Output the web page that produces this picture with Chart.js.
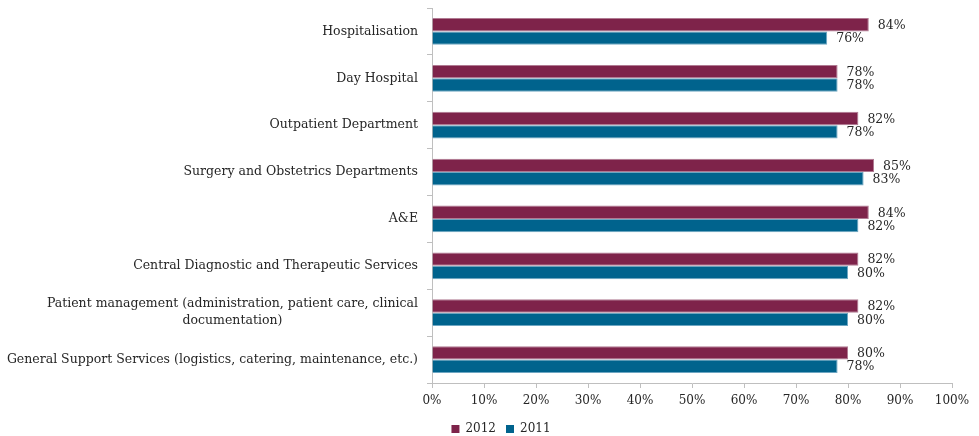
<!DOCTYPE html>
<html>
<head>
<meta charset="utf-8">
<script src="https://cdn.jsdelivr.net/npm/chart.js@4/dist/chart.umd.min.js"></script>
<style>
  html, body { margin: 0; padding: 0; background: #fff; }
  #wrap { width: 979px; height: 436px; }
</style>
</head>
<body>
<div id="wrap"><canvas id="satisfaction" width="979" height="436"></canvas></div>
<script>
const categories = [
  "Hospitalisation",
  "Day Hospital",
  "Outpatient Department",
  "Surgery and Obstetrics Departments",
  "A&E",
  "Central Diagnostic and Therapeutic Services",
  ["Patient management (administration, patient care, clinical", "documentation)"],
  "General Support Services (logistics, catering, maintenance, etc.)"
];
const values2012 = [84, 78, 82, 85, 84, 82, 82, 80];
const values2011 = [76, 78, 78, 83, 82, 80, 80, 78];
const xTicks = [0, 10, 20, 30, 40, 50, 60, 70, 80, 90, 100];

const FONT = "'DejaVu Serif', 'Liberation Serif', serif";
const TEXT = "#262626";
const AXIS = "#bfbfbf";

// value labels just past the end of each bar
const barLabels = {
  id: "barLabels",
  afterDatasetsDraw(chart) {
    const ctx = chart.ctx;
    ctx.save();
    ctx.font = "12.5px " + FONT;
    ctx.fillStyle = TEXT;
    ctx.textAlign = "left";
    ctx.textBaseline = "middle";
    chart.data.datasets.forEach((ds, i) => {
      chart.getDatasetMeta(i).data.forEach((bar, j) => {
        ctx.fillText(ds.data[j] + "%", bar.x + 9, bar.y + 1);
      });
    });
    ctx.restore();
  }
};

// category names, right aligned; wrapped names are centred on their widest line
const categoryLabels = {
  id: "categoryLabels",
  afterDraw(chart) {
    const ctx = chart.ctx;
    const y = chart.scales.y;
    const right = y.right - 14;
    const lineH = 17;
    ctx.save();
    ctx.font = "12.5px " + FONT;
    ctx.fillStyle = TEXT;
    ctx.textBaseline = "middle";
    ctx.textAlign = "center";
    categories.forEach((label, i) => {
      const lines = Array.isArray(label) ? label : [label];
      const cy = y.getPixelForValue(i);
      const widest = Math.max(...lines.map(l => ctx.measureText(l).width));
      const cx = right - widest / 2;
      lines.forEach((l, k) => {
        ctx.fillText(l, cx, cy + (k - (lines.length - 1) / 2) * lineH);
      });
    });
    ctx.restore();
  }
};

new Chart(document.getElementById("satisfaction"), {
  type: "bar",
  data: {
    labels: categories,
    datasets: [
      {
        label: "2012", data: values2012,
        backgroundColor: "#7e234a", borderColor: "#b07a92", borderWidth: 1,
        categoryPercentage: 0.57, barPercentage: 1.0
      },
      {
        label: "2011", data: values2011,
        backgroundColor: "#00638d", borderColor: "#6ea6c2", borderWidth: 1,
        categoryPercentage: 0.57, barPercentage: 1.0
      }
    ]
  },
  options: {
    indexAxis: "y",
    responsive: false,
    devicePixelRatio: 1,
    animation: false,
    layout: { padding: { top: 8, right: 27, left: 50, bottom: 0 } },
    scales: {
      x: {
        min: 0,
        max: 100,
        afterBuildTicks: s => { s.ticks = xTicks.map(v => ({ value: v })); },
        afterFit: s => { s.height = 30; },
        ticks: {
          callback: v => v + "%",
          color: TEXT,
          font: { family: FONT, size: 12 },
          padding: 6,
          maxRotation: 0
        },
        grid: { drawOnChartArea: false, color: AXIS, tickLength: 5 },
        border: { color: AXIS }
      },
      y: {
        afterFit: s => { s.width = 382; },
        ticks: { display: false },
        grid: { drawOnChartArea: false, offset: true, color: AXIS, tickLength: 5 },
        border: { color: AXIS }
      }
    },
    plugins: {
      legend: {
        position: "bottom",
        maxHeight: 23,
        labels: {
          boxWidth: 8,
          boxHeight: 8,
          padding: 10,
          color: TEXT,
          font: { family: FONT, size: 12 },
          generateLabels: chart => chart.data.datasets.map((ds, i) => ({
            text: ds.label,
            fillStyle: ds.backgroundColor,
            strokeStyle: ds.backgroundColor,
            lineWidth: 0,
            fontColor: TEXT,
            datasetIndex: i
          }))
        }
      },
      tooltip: { enabled: false }
    }
  },
  plugins: [barLabels, categoryLabels]
});
</script>
</body>
</html>
